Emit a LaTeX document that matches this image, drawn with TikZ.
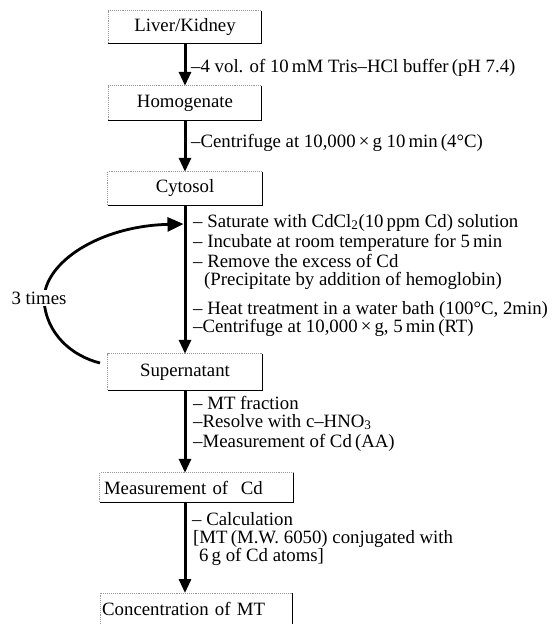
\documentclass[tikz,border=0pt]{standalone}
\usepackage{fontspec}
\setmainfont{Liberation Serif}
\usetikzlibrary{arrows.meta}
\begin{document}
\begin{tikzpicture}[x=1pt,y=-1pt,
  every node/.style={font=\fontsize{18.8}{21}\selectfont, inner sep=0pt},
  box/.style={minimum width=#1, inner sep=0pt},
  note/.style={anchor=west, text height=11.5pt, text depth=3.5pt},
  faintedge/.style={draw=black!40, line width=0.9pt, densely dotted},
  boxedge/.style={draw=black, line width=1.4pt},
  flow/.style={line width=3pt, -{Triangle[width=12pt,length=14pt]}},
  loop/.style={line width=2.8pt, -{Triangle[width=14pt,length=16pt]}}]
\useasboundingbox (0,0) rectangle (554,624);
\clip (0,0) rectangle (554,624);
% boxes
\node[box=153pt, minimum height=32pt] (liver) at (185,27) {Liver/Kidney};
\node[box=153pt, minimum height=34pt] (homog) at (185,103) {Homogenate};
\node[box=154pt, minimum height=33pt] (cyto) at (185,188.5) {Cytosol};
\node[box=154pt, minimum height=36pt] (super) at (185,372) {Supernatant};
\node[box=193pt, minimum height=29pt, text width=185pt, align=left] (meas) at (196.5,487.5) {Measurement of\ \ Cd};
\node[box=192pt, minimum height=40pt, text width=188pt, align=left, anchor=north west] (conc) at (100,593) {\raisebox{8pt}{Concentration of MT}};
\foreach \n in {liver,homog,cyto,super,meas,conc}{
  \draw[faintedge] (\n.south west) |- (\n.north east);
  \draw[boxedge] (\n.north east) |- (\n.south west);
}
% main arrows
\draw[flow] (liver.south) -- (homog.north);
\draw[flow] (homog.south) -- (cyto.north);
\draw[flow] (cyto.south) -- (super.north);
\draw[flow] (super.south) -- (meas.north -| super.south);
\draw[flow] (meas.south -| super.south) -- (conc.north -| super.south);
% loop
\coordinate (loopstart) at (100,363);
\coordinate (loopend) at (183.5,224);
\draw[loop] (loopstart) .. controls (72,356) and (46,334) .. (44,300)
  .. controls (44,262) and (100,226) .. (loopend);
\node[fill=white, inner sep=2pt] (times) at (39,298) {3 times};
% notes
\node[note] (n1) at (191,68) {–4 vol. of 10\,mM Tris–HCl buffer\,(pH 7.4)};
\node[note] (n2) at (191,143) {–Centrifuge at 10,000\,×\,g 10\,min\,(4°C)};
\node[note] (n3) at (193,223) {– Saturate with CdCl\textsubscript{2}(10\,ppm Cd) solution};
\node[note] (n4) at (193,243) {– Incubate at room temperature for 5\,min};
\node[note] (n5) at (193,263) {– Remove the excess of Cd};
\node[note] (n6) at (204,281) {(Precipitate by addition of hemoglobin)};
\node[note] (n7) at (193,310) {– Heat treatment in a water bath (100°C, 2min)};
\node[note] (n8) at (193,328) {–Centrifuge at 10,000\,×\,g, 5\,min\,(RT)};
\node[note] (n9) at (193,405) {– MT fraction};
\node[note] (n10) at (193,423) {–Resolve with c–HNO\textsubscript{3}};
\node[note] (n11) at (193,443) {–Measurement of Cd\,(AA)};
\node[note] (n12) at (192,521) {– Calculation};
\node[note] (n13) at (193,539) {[MT\,(M.W. 6050) conjugated with};
\node[note] (n14) at (199,557) {6\,g of Cd atoms]};
\end{tikzpicture}
\end{document}
